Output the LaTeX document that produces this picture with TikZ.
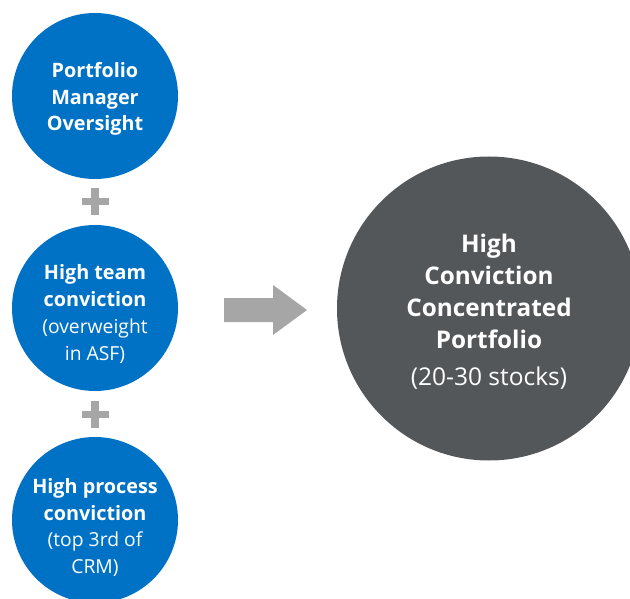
\documentclass[tikz,border=0pt]{standalone}
\usepackage{fontspec}
\setmainfont{Open Sans}
\definecolor{cblue}{HTML}{0072C6}
\definecolor{cdark}{HTML}{54575A}
\definecolor{cgrey}{HTML}{A6A6A6}
\newcommand{\bsm}{\fontsize{19.8}{26.8}\selectfont\bfseries}
\newcommand{\rsm}{\fontsize{19.3}{26.8}\selectfont\mdseries}
\begin{document}
\begin{tikzpicture}[x=1pt,y=-1pt,
  smallcirc/.style={circle,fill=cblue,minimum size=166pt,inner sep=0pt},
  bigcirc/.style={circle,fill=cdark,minimum size=304pt,inner sep=0pt},
  smalltxt/.style={text=white,align=center,font=\bsm,inner sep=0pt},
  bigtxt/.style={text=white,align=center,font=\fontsize{24.3}{32}\selectfont\bfseries,inner sep=0pt},
  plusbar/.style={fill=cgrey}]
\useasboundingbox (0,0) rectangle (630,599);
\clip (0,0) rectangle (630,599);
% circles
\node[smallcirc] (c1) at (95,96) {};
\node[smallcirc] (c2) at (95,308) {};
\node[smallcirc] (c3) at (95,520) {};
\node[bigcirc] (big) at (489,308.5) {};
% texts
\node[smalltxt] (t1) at (95,99) {Portfolio\\Manager\\Oversight};
\node[smalltxt] (t2) at (95,314) {High team\\conviction\\\rsm(overweight\\\rsm in ASF)};
\node[smalltxt] (t3) at (95,527.5) {High process\\conviction\\\rsm(top 3rd of\\\rsm CRM)};
\node[bigtxt] (tb) at (489,291) {High\\Conviction\\Concentrated\\Portfolio};
\node[text=white,font=\fontsize{24.5}{30}\selectfont,inner sep=0pt] (tbs) at (489,378) {(20-30 stocks)};
% plus signs
\fill[plusbar] (81.5,198) rectangle (108.5,205);
\fill[plusbar] (91,188) rectangle (99,215);
\fill[plusbar] (81.5,410.5) rectangle (108.5,417.5);
\fill[plusbar] (91,400.5) rectangle (99,427.5);
% arrow
\fill[cgrey] (224,298) -- (273,298) -- (273,285) -- (307,310) -- (273,335) -- (273,322) -- (224,322) -- cycle;
\end{tikzpicture}
\end{document}
